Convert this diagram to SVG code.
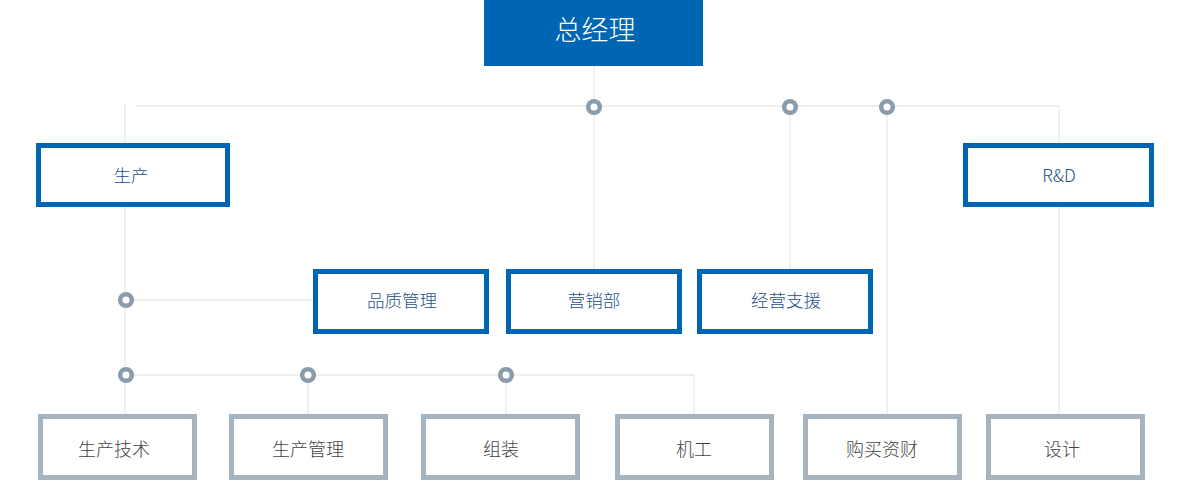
<svg xmlns="http://www.w3.org/2000/svg" width="1186" height="497" viewBox="0 0 1186 497">
<style>
.ln{stroke:#e1e1e1;stroke-width:1;fill:none}
.dot{fill:#fff;stroke:#8a9bab;stroke-width:4.5}
.bb{fill:#fff;stroke:#0066b3;stroke-width:5}
.gb{fill:#fff;stroke:#a6b4c0;stroke-width:5}
.bt{font-family:"Noto Sans CJK SC","Liberation Sans",sans-serif;font-size:17.5px;font-weight:300;fill:#1d4f8a;text-anchor:middle}
.gt{font-family:"Noto Sans CJK SC","Liberation Sans",sans-serif;font-size:18px;font-weight:300;fill:#444;text-anchor:middle}
</style>
<rect width="1186" height="497" fill="#fff"/>
<g id="connectors">
<line class="ln" x1="594" y1="66" x2="594" y2="269"/>
<line class="ln" x1="135" y1="106" x2="1059" y2="106"/>
<line class="ln" x1="125" y1="103" x2="125" y2="414"/>
<line class="ln" x1="1059" y1="106" x2="1059" y2="414"/>
<line class="ln" x1="790" y1="106" x2="790" y2="269"/>
<line class="ln" x1="887" y1="106" x2="887" y2="414"/>
<line class="ln" x1="126" y1="300" x2="314" y2="300"/>
<line class="ln" x1="126" y1="375" x2="694" y2="375"/>
<line class="ln" x1="694" y1="375" x2="694" y2="414"/>
<line class="ln" x1="308" y1="375" x2="308" y2="414"/>
<line class="ln" x1="506" y1="375" x2="506" y2="414"/>
<circle class="dot" cx="594" cy="107" r="5.8"/>
<circle class="dot" cx="790" cy="107" r="5.8"/>
<circle class="dot" cx="887" cy="107" r="5.8"/>
<circle class="dot" cx="126" cy="300" r="5.8"/>
<circle class="dot" cx="126" cy="375" r="5.8"/>
<circle class="dot" cx="308" cy="375" r="5.8"/>
<circle class="dot" cx="506" cy="375" r="5.8"/>
</g>
<g id="n-gm">
<rect x="484" y="0" width="219" height="66" fill="#0066b3"/>
<text x="595" y="40" font-family="'Noto Sans CJK SC','Liberation Sans',sans-serif" font-size="27" font-weight="300" fill="#fff" text-anchor="middle">总经理</text>
</g>
<g id="n-prod"><rect class="bb" x="38.5" y="145.5" width="189" height="59"/><text class="bt" x="131" y="182">生产</text></g>
<g id="n-rd"><rect class="bb" x="965.5" y="145.5" width="186" height="59"/><text class="bt" x="1059" y="182">R&amp;D</text></g>
<g id="n-qm"><rect class="bb" x="315.5" y="271.5" width="171" height="60"/><text class="bt" x="402" y="307">品质管理</text></g>
<g id="n-sales"><rect class="bb" x="508.5" y="271.5" width="171" height="60"/><text class="bt" x="594" y="307">营销部</text></g>
<g id="n-bs"><rect class="bb" x="699.5" y="271.5" width="171" height="60"/><text class="bt" x="786" y="307">经营支援</text></g>
<g id="n-pt"><rect class="gb" x="40.5" y="416.5" width="154" height="61"/><text class="gt" x="114" y="456">生产技术</text></g>
<g id="n-pm"><rect class="gb" x="231.5" y="416.5" width="154" height="61"/><text class="gt" x="308" y="456">生产管理</text></g>
<g id="n-asm"><rect class="gb" x="423.5" y="416.5" width="154" height="61"/><text class="gt" x="501" y="456">组装</text></g>
<g id="n-mach"><rect class="gb" x="617.5" y="416.5" width="154" height="61"/><text class="gt" x="694" y="456">机工</text></g>
<g id="n-pur"><rect class="gb" x="805.5" y="416.5" width="154" height="61"/><text class="gt" x="882" y="456">购买资财</text></g>
<g id="n-design"><rect class="gb" x="988.5" y="416.5" width="154" height="61"/><text class="gt" x="1062" y="456">设计</text></g>
</svg>
